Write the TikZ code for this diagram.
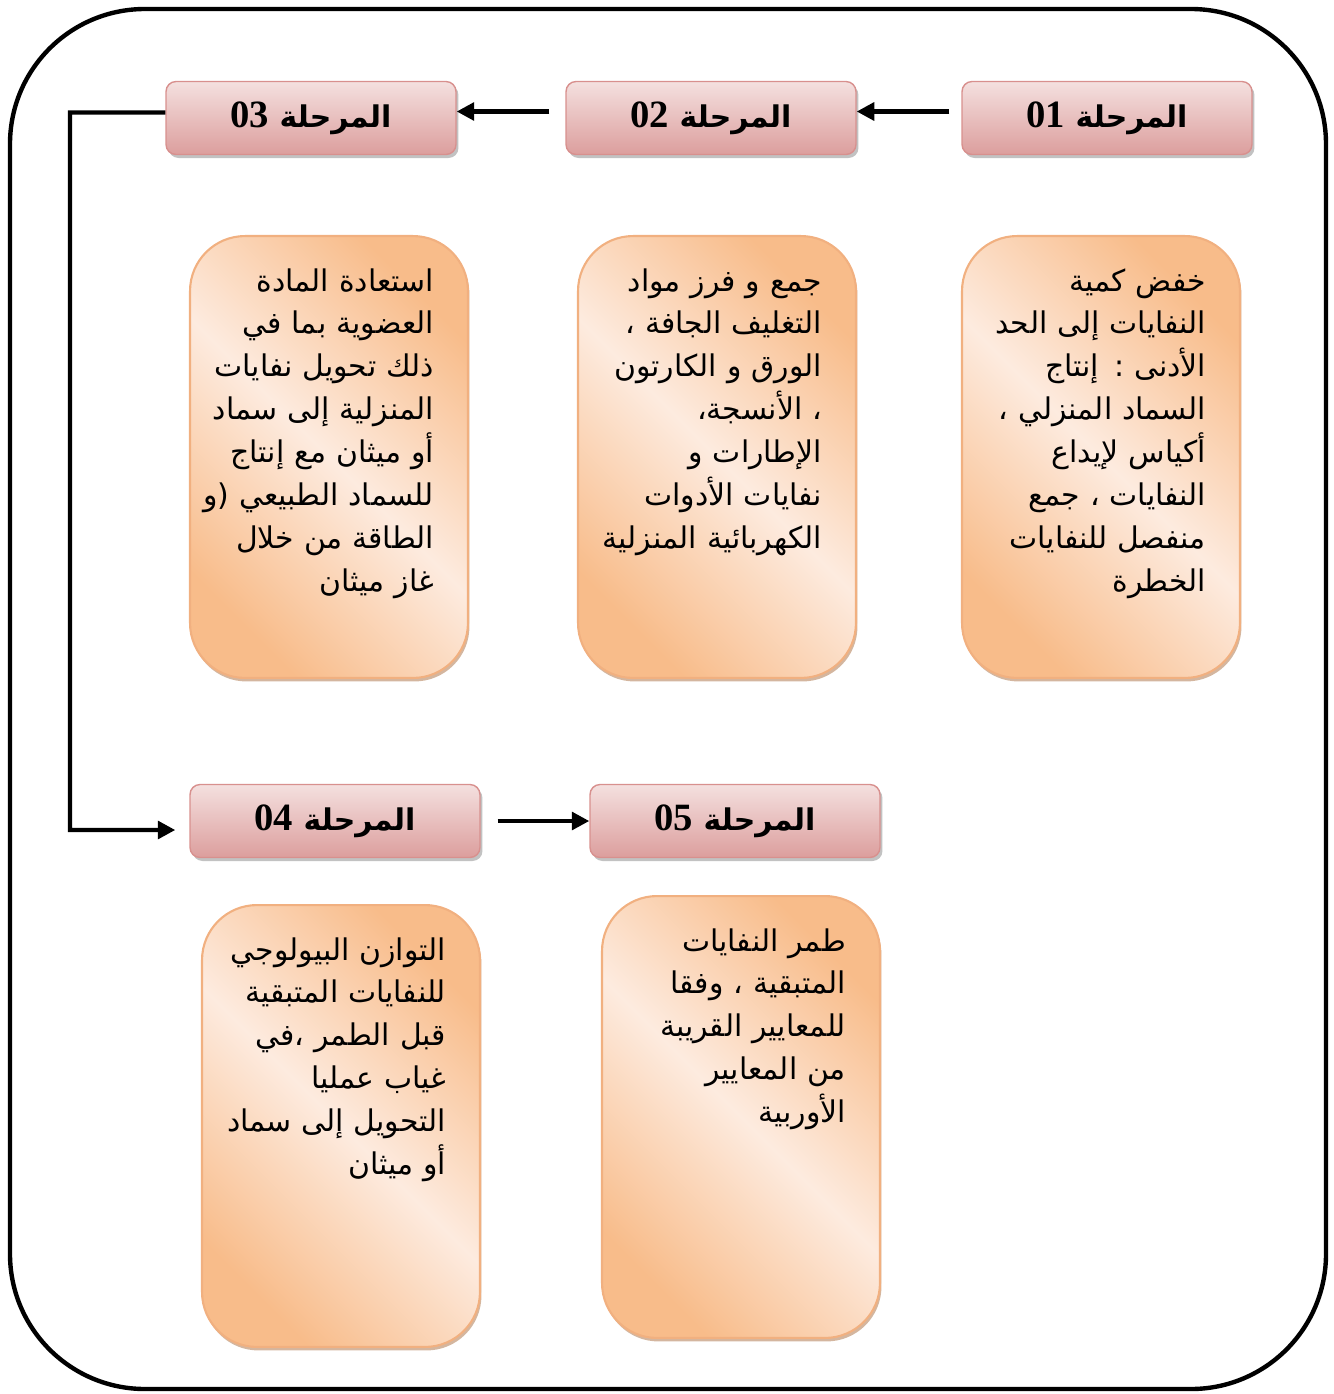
\documentclass[tikz,border=0pt]{standalone}
\usepackage{fontspec}
\newfontfamily\arabicfont[Script=Arabic]{DejaVu Sans}
\newfontfamily\digitfont{Liberation Serif}
\TeXXeTstate=1
\usetikzlibrary{arrows.meta,shadows,positioning}

\definecolor{stagetop}{HTML}{F4E0DF}
\definecolor{stagebot}{HTML}{DC9E9D}
\definecolor{stageline}{HTML}{D8908E}
\definecolor{taskin}{HTML}{FDEBDF}
\definecolor{taskout}{HTML}{F8BC8A}
\definecolor{taskline}{HTML}{F1B080}
\definecolor{taskshade}{HTML}{C9A487}

% one right-to-left line, spilling to the left when too long
\newcommand{\rtl}[1]{\leavevmode\hbox to \linewidth{\hss\beginR#1\endR}}

\begin{document}
\begin{tikzpicture}[x=0.02cm, y=-0.02cm,
    stage/.style={draw=stageline, line width=0.8pt, rounded corners=0.2cm,
      minimum width=5.8cm, minimum height=1.46cm, inner sep=0pt,
      top color=stagetop, bottom color=stagebot,
      drop shadow={shadow xshift=0.05cm, shadow yshift=-0.07cm, fill=black!40, opacity=0.6},
      font=\arabicfont\bfseries\fontsize{17}{20}\selectfont},
    task/.style={draw=taskline, line width=1.2pt, rounded corners=1.1cm,
      top color=taskout, bottom color=taskout, middle color=taskin, shading angle=-45,
      drop shadow={shadow xshift=0.03cm, shadow yshift=-0.07cm, fill=taskshade, opacity=0.8},
      text width=4.2cm, inner xsep=0.68cm, inner ysep=0pt,
      text height=1.1cm, text depth=7.74cm, align=right,
      font=\arabicfont\fontsize{17}{24.4}\selectfont},
    link/.style={line width=2.5pt, -{Triangle[length=10pt,width=10pt]}}]
  \useasboundingbox (0,0) rectangle (1334,1394);
  \draw[line width=2.5pt, rounded corners=2.7cm] (10,9) rectangle (1326,1389);

  % stages
  \draw (1107,118) node[stage] (s01) {\beginR المرحلة \beginL{\digitfont\bfseries\fontsize{22}{22}\selectfont 01}\endL\endR};
  \draw (711,118) node[stage] (s02) {\beginR المرحلة \beginL{\digitfont\bfseries\fontsize{22}{22}\selectfont 02}\endL\endR};
  \draw (311,118) node[stage] (s03) {\beginR المرحلة \beginL{\digitfont\bfseries\fontsize{22}{22}\selectfont 03}\endL\endR};
  \draw (335,821) node[stage] (s04) {\beginR المرحلة \beginL{\digitfont\bfseries\fontsize{22}{22}\selectfont 04}\endL\endR};
  \draw (735,821) node[stage] (s05) {\beginR المرحلة \beginL{\digitfont\bfseries\fontsize{22}{22}\selectfont 05}\endL\endR};

  % tasks
  \draw (1101,457) node[task] (t01) {\rtl{خفض كمية}\\ \rtl{النفايات إلى الحد}\\ \rtl{الأدنى : إنتاج}\\ \rtl{السماد المنزلي ،}\\ \rtl{أكياس لإيداع}\\ \rtl{النفايات ، جمع}\\ \rtl{منفصل للنفايات}\\ \rtl{الخطرة}};
  \draw (717,457) node[task] (t02) {\rtl{جمع و فرز مواد}\\ \rtl{التغليف الجافة ،}\\ \rtl{الورق و الكارتون}\\ \rtl{، الأنسجة\kern0pt،}\\ \rtl{الإطارات و}\\ \rtl{نفايات الأدوات}\\ \rtl{الكهربائية المنزلية}};
  \draw (329,457) node[task] (t03) {\rtl{استعادة المادة}\\ \rtl{العضوية بما في}\\ \rtl{ذلك تحويل نفايات}\\ \rtl{المنزلية إلى سماد}\\ \rtl{أو ميثان مع إنتاج}\\ \rtl{للسماد الطبيعي (و}\\ \rtl{الطاقة من خلال}\\ \rtl{غاز ميثان}};
  \draw (341,1126) node[task] (t04) {\rtl{التوازن البيولوجي}\\ \rtl{للنفايات المتبقية}\\ \rtl{قبل الطمر ،\kern0pt في}\\ \rtl{غياب عمليا}\\ \rtl{التحويل إلى سماد}\\ \rtl{أو ميثان}};
  \draw (741,1117) node[task] (t05) {\rtl{طمر النفايات}\\ \rtl{المتبقية ، وفقا}\\ \rtl{للمعايير القريبة}\\ \rtl{من المعايير}\\ \rtl{الأوربية}};

  \coordinate (turn) at (70,830);
  \draw[link, shorten <=0.24cm] ([yshift=0.13cm]s01.west) -- ([yshift=0.13cm]s02.east);
  \draw[link, shorten <=0.32cm] ([yshift=0.13cm]s02.west) -- ([yshift=0.13cm]s03.east);
  \draw[link, shorten >=0.28cm] ([yshift=0.11cm]s03.west) -| (turn) -- ([yshift=-0.18cm]s04.west);
  \draw[link, shorten <=0.34cm] (s04.east) -- (s05.west);
\end{tikzpicture}
\end{document}
